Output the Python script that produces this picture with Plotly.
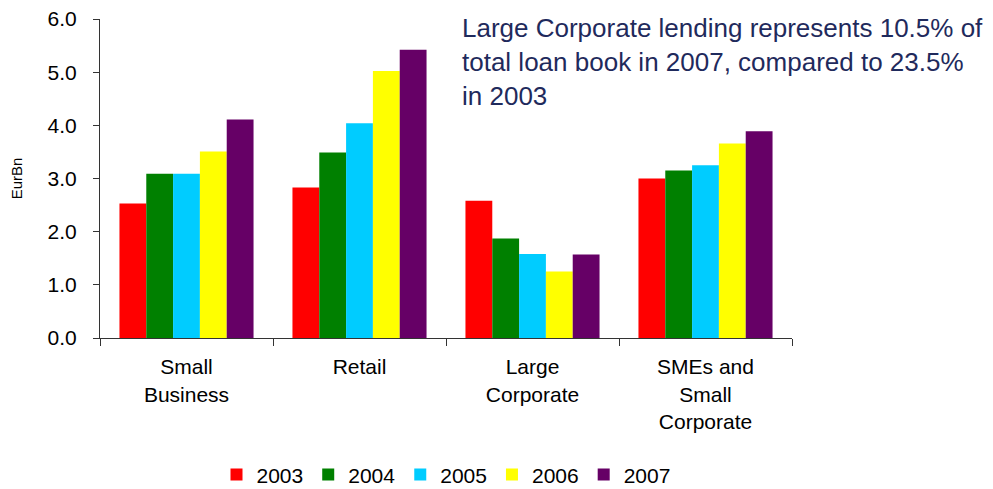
import plotly.graph_objects as go

categories = ["Small<br>Business", "Retail", "Large<br>Corporate", "SMEs and<br>Small<br>Corporate"]
years = ["2003", "2004", "2005", "2006", "2007"]
colors = ["#FF0000", "#008000", "#00CCFF", "#FFFF00", "#660066"]

values_2003 = [2.53, 2.83, 2.58, 3.00]
values_2004 = [3.09, 3.49, 1.87, 3.15]
values_2005 = [3.09, 4.04, 1.58, 3.25]
values_2006 = [3.51, 5.02, 1.25, 3.66]
values_2007 = [4.11, 5.42, 1.57, 3.89]
series = [values_2003, values_2004, values_2005, values_2006, values_2007]

y_ticks = [0, 1, 2, 3, 4, 5, 6]
y_tick_labels = ["0.0", "1.0", "2.0", "3.0", "4.0", "5.0", "6.0"]

note = ("Large Corporate lending represents 10.5% of<br>"
        "total loan book in 2007, compared to 23.5%<br>"
        "in 2003")

fig = go.Figure()
for year, vals, col in zip(years, series, colors):
    fig.add_trace(go.Bar(x=categories, y=vals, name=year,
                         marker=dict(color=col, line=dict(width=0))))

fig.update_layout(
    width=993, height=489,
    margin=dict(l=100, r=201, t=19, b=151, autoexpand=False),
    paper_bgcolor="white", plot_bgcolor="white",
    barmode="group", bargap=0.225, bargroupgap=0,
    font=dict(family="Liberation Sans, Arial, sans-serif", color="black", size=18),
    showlegend=True,
    legend=dict(orientation="h", x=0.5, xanchor="center", y=-0.365, yanchor="top",
                font=dict(size=21), itemwidth=30, tracegroupgap=0),
    annotations=[dict(text=note, xref="paper", yref="paper", x=0.52, y=1.025,
                      xanchor="left", yanchor="top", align="left", showarrow=False,
                      font=dict(size=26, color="#1F2A5C"))],
)
fig.update_xaxes(showline=True, linecolor="#333333", linewidth=1,
                 ticks="outside", tickson="boundaries", ticklen=7, tickcolor="#333333",
                 tickfont=dict(size=21), ticklabelstandoff=10, showgrid=False)
fig.update_yaxes(range=[0, 6], tickvals=y_ticks, ticktext=y_tick_labels,
                 showline=True, linecolor="#333333", linewidth=1,
                 ticks="outside", ticklen=6, tickcolor="#333333",
                 showgrid=False, zeroline=False, tickfont=dict(size=21),
                 ticklabelstandoff=12,
                 title=dict(text="EurBn", font=dict(size=15), standoff=21))

fig.write_html("out.html")
